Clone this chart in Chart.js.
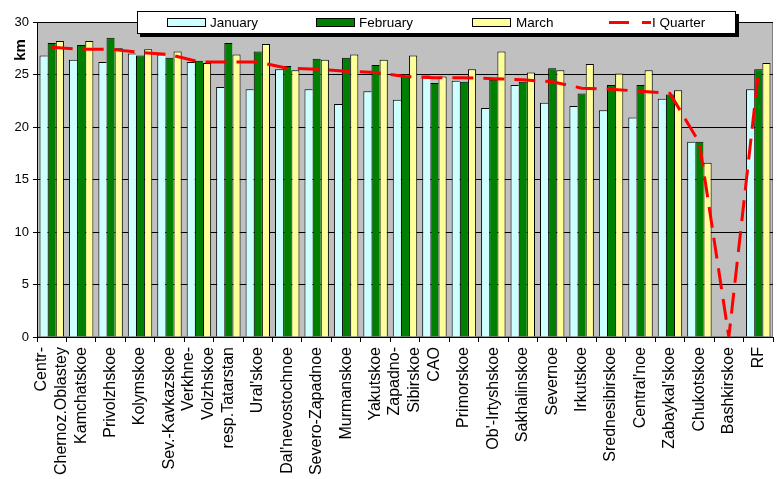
<!DOCTYPE html>
<html><head><meta charset="utf-8">
<script src="https://cdn.jsdelivr.net/npm/chart.js@4"></script>
<style>html,body{margin:0;padding:0;background:#fff;}</style>
</head><body>
<canvas id="c" width="777" height="479"></canvas>
<script>
const categories = [
  ["Centr-", "Chernoz.Oblastey"], "Kamchatskoe", "Privolzhskoe", "Kolymskoe", "Sev.-Kavkazskoe",
  ["Verkhne-", "Volzhskoe"], "resp.Tatarstan", "Ural'skoe", "Dal'nevostochnoe", "Severo-Zapadnoe",
  "Murmanskoe", "Yakutskoe", ["Zapadno-", "Sibirskoe"], "CAO", "Primorskoe",
  "Ob'-Irtyshskoe", "Sakhalinskoe", "Severnoe", "Irkutskoe", "Srednesibirskoe",
  "Central'noe", "Zabaykal'skoe", "Chukotskoe", "Bashkirskoe", "RF"
];
const january  = [26.8, 26.4, 26.2, 27.0, 26.9, 26.2, 23.8, 23.6, 25.5, 23.6, 22.2, 23.4, 22.6, 24.9, 24.4, 21.8, 24.0, 22.3, 22.0, 21.6, 20.9, 22.7, 18.6, 0, 23.6];
const february = [28.0, 27.8, 28.5, 26.8, 26.6, 26.3, 28.0, 27.2, 25.8, 26.5, 26.6, 25.9, 24.8, 24.2, 24.3, 24.5, 24.3, 25.6, 23.2, 24.0, 24.0, 23.1, 18.6, 0, 25.5];
const march    = [28.2, 28.2, 27.5, 27.4, 27.2, 26.1, 26.9, 27.9, 25.4, 26.4, 26.9, 26.4, 26.8, 24.8, 25.5, 27.2, 25.2, 25.4, 26.0, 25.1, 25.4, 23.5, 16.6, 0, 26.1];
const quarter  = [27.6, 27.4, 27.4, 27.1, 26.9, 26.2, 26.2, 26.2, 25.6, 25.5, 25.3, 25.2, 24.8, 24.7, 24.7, 24.6, 24.5, 24.3, 23.7, 23.6, 23.4, 23.2, 18.5, 0, 25.1];
const seriesNames = ["January", "February", "March", "I Quarter"];
const yTicks = [0, 5, 10, 15, 20, 25, 30];
const yTitle = "km";

const FONT = '"Liberation Sans", Arial, sans-serif';
Chart.defaults.font.family = FONT;
Chart.defaults.color = '#000';

const plotBg = {
  id: 'plotBg',
  beforeDraw(chart) {
    const {ctx, chartArea: a} = chart;
    ctx.save();
    ctx.fillStyle = '#C0C0C0';
    ctx.fillRect(a.left, a.top, a.right - a.left, a.bottom - a.top);
    ctx.strokeStyle = '#808080';
    ctx.lineWidth = 1;
    ctx.strokeRect(a.left + 0.5, a.top + 0.5, a.right - a.left - 1, a.bottom - a.top - 1);
    ctx.restore();
  }
};

const extras = {
  id: 'extras',
  afterDraw(chart) {
    const ctx = chart.ctx;
    const xs = chart.scales.x;
    ctx.save();
    // x labels
    ctx.font = '16px ' + FONT;
    ctx.fillStyle = '#000';
    ctx.textAlign = 'right';
    ctx.textBaseline = 'middle';
    const lh = 20;
    chart.data.labels.forEach((lab, i) => {
      const lines = Array.isArray(lab) ? lab : [lab];
      const px = xs.getPixelForValue(i);
      lines.forEach((ln, j) => {
        const x = px + (j - (lines.length - 1) / 2) * lh;
        ctx.save();
        ctx.translate(x, 347);
        ctx.rotate(-Math.PI / 2);
        ctx.fillText(ln, 0, 0);
        ctx.restore();
      });
    });
    // y title
    ctx.save();
    ctx.font = 'bold 15px ' + FONT;
    ctx.textAlign = 'center';
    ctx.translate(21, 50);
    ctx.rotate(-Math.PI / 2);
    ctx.fillText(yTitle, 0, 0);
    ctx.restore();
    // legend
    const L = 137, T = 11, W = 599, H = 23;
    ctx.fillStyle = '#000';
    ctx.fillRect(L + 3, T + 3, W, H);
    ctx.fillStyle = '#fff';
    ctx.fillRect(L, T, W, H);
    ctx.strokeStyle = '#000';
    ctx.lineWidth = 1;
    ctx.strokeRect(L + 0.5, T + 0.5, W - 1, H - 1);
    const ds = chart.data.datasets;
    const cy = T + H / 2;
    const swX = [167, 316, 472];
    const txX = [210, 359, 516];
    ctx.font = '13.5px ' + FONT;
    ctx.textAlign = 'left';
    ctx.textBaseline = 'middle';
    for (let k = 0; k < 3; k++) {
      ctx.fillStyle = ds[k].backgroundColor;
      ctx.fillRect(swX[k], cy - 4.5, 39, 9);
      ctx.strokeStyle = '#000';
      ctx.strokeRect(swX[k] + 0.5, cy - 4.5 + 0.5, 38, 8);
      ctx.fillStyle = '#000';
      ctx.fillText(ds[k].label, txX[k], cy + 0.5);
    }
    ctx.strokeStyle = ds[3].borderColor;
    ctx.lineWidth = 3;
    ctx.setLineDash([20, 13]);
    ctx.beginPath();
    ctx.moveTo(609, cy);
    ctx.lineTo(651, cy);
    ctx.stroke();
    ctx.setLineDash([]);
    ctx.fillStyle = '#000';
    ctx.fillText(ds[3].label, 652, cy + 0.5);
    ctx.restore();
  }
};

const barCommon = { borderColor: '#000', borderSkipped: false, categoryPercentage: 0.83, barPercentage: 1.0, order: 1 };
const bwInner = { top: 1, left: 1, right: 0, bottom: 0 };
const bwLast = { top: 1, left: 1, right: 1, bottom: 0 };

new Chart(document.getElementById('c'), {
  type: 'bar',
  data: {
    labels: categories,
    datasets: [
      Object.assign({ label: seriesNames[0], data: january, backgroundColor: '#CCFFFF', borderWidth: bwInner }, barCommon),
      Object.assign({ label: seriesNames[1], data: february, backgroundColor: '#008000', borderWidth: bwInner }, barCommon),
      Object.assign({ label: seriesNames[2], data: march, backgroundColor: '#FFFF99', borderWidth: bwLast }, barCommon),
      { type: 'line', label: seriesNames[3], data: quarter, borderColor: '#FF0000', borderWidth: 3,
        borderDash: [21, 10], pointRadius: 0, tension: 0, fill: false, order: 0 }
    ]
  },
  options: {
    responsive: false,
    animation: false,
    devicePixelRatio: 1,
    layout: { padding: { top: 22, right: 4, left: 0, bottom: 0 } },
    plugins: { legend: { display: false }, tooltip: { enabled: false } },
    scales: {
      x: {
        grid: { display: true, drawOnChartArea: false, drawTicks: true, tickLength: 5, color: '#000', offset: true },
        border: { display: true, color: '#000', width: 1 },
        ticks: { display: false, autoSkip: false },
        afterFit(s) { s.height = 142; }
      },
      y: {
        min: 0, max: 30,
        afterBuildTicks(s) { s.ticks = yTicks.map(v => ({ value: v })); },
        grid: { color: '#000', lineWidth: 1, drawTicks: true, tickLength: 4 },
        border: { display: true, color: '#000', width: 1 },
        ticks: { font: { size: 13 }, color: '#000', padding: 4 },
        afterFit(s) { s.width = 37; }
      }
    }
  },
  plugins: [plotBg, extras]
});
</script>
</body></html>
